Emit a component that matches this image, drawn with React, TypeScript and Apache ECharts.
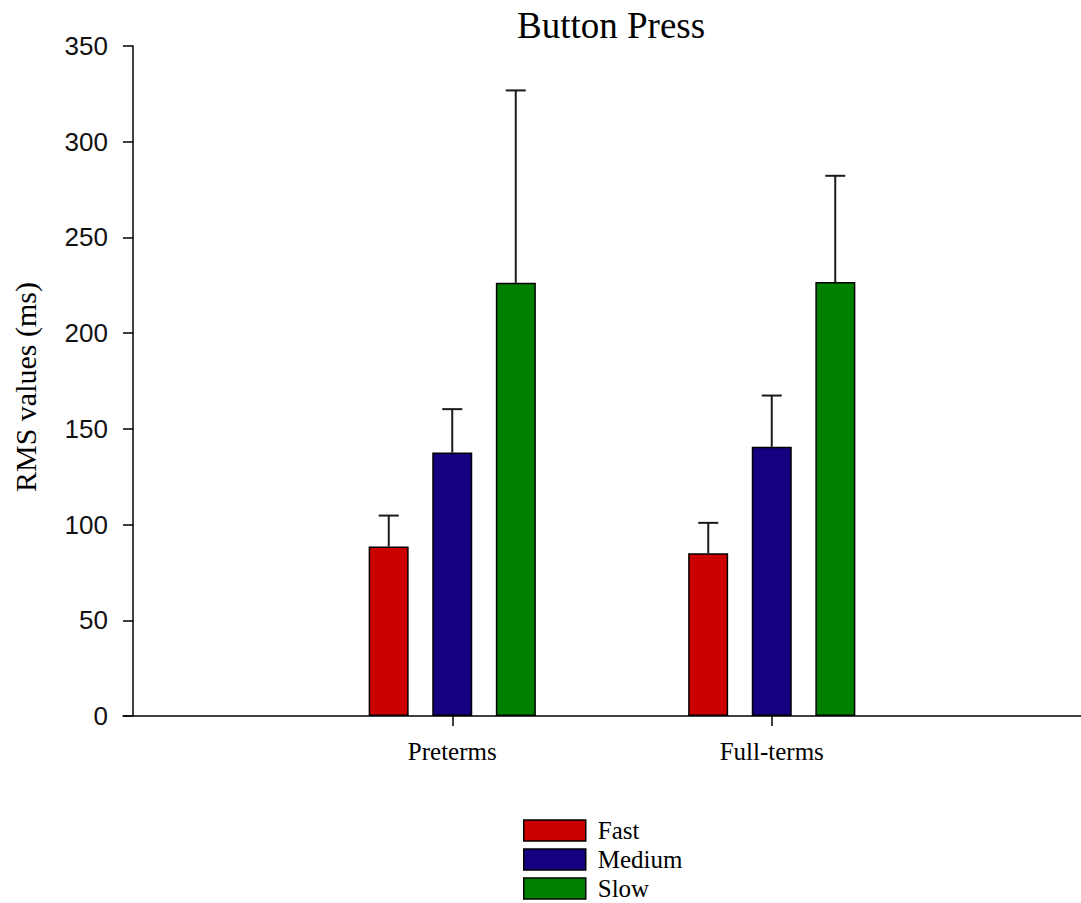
import React, { useEffect, useRef } from "react";
import * as echarts from "echarts";

const categories = ["Preterms", "Full-terms"];
const seriesNames = ["Fast", "Medium", "Slow"];
const fastMeans = [88.5, 85.0];
const mediumMeans = [137.6, 140.6];
const slowMeans = [226.3, 226.7];
const fastErr = [16.2, 15.9];
const mediumErr = [22.7, 26.8];
const slowErr = [100.5, 55.5];
const yTicks = { min: 0, max: 350, interval: 50 };
const colors = ["#cc0000", "#150080", "#008000"];

const BAR_W = 40;
const STEP = 63.5;

export default function App() {
  const ref = useRef<HTMLDivElement>(null);
  useEffect(() => {
    if (!ref.current) return;
    const chart = echarts.init(ref.current, null, { renderer: "svg" });
    const means = [fastMeans, mediumMeans, slowMeans];
    const errs = [fastErr, mediumErr, slowErr];
    const axisColor = "#000";
    const barSeries = seriesNames.map((name, k) => ({
      name,
      type: "bar",
      xAxisIndex: 2,
      yAxisIndex: 2,
      data: means[k],
      barWidth: BAR_W,
      barGap: "59%",
      itemStyle: { color: colors[k], borderColor: "#000", borderWidth: 1.5 },
      z: 3,
    }));
    const errSeries = seriesNames.map((name, k) => ({
      name: name + " err",
      type: "custom",
      xAxisIndex: 2,
      yAxisIndex: 2,
      z: 4,
      data: categories.map((_, i) => [i, means[k][i], errs[k][i]]),
      renderItem: (params: any, api: any) => {
        const i = api.value(0);
        const m = api.value(1);
        const e = api.value(2);
        const p0 = api.coord([i, m]);
        const p1 = api.coord([i, m + e]);
        const x = p0[0] + (k - 1) * STEP;
        const style = { stroke: "#1a1a1a", lineWidth: 2 };
        return {
          type: "group",
          children: [
            { type: "line", shape: { x1: x, y1: p0[1], x2: x, y2: p1[1] }, style },
            { type: "line", shape: { x1: x - 10, y1: p1[1], x2: x + 10, y2: p1[1] }, style },
          ],
        };
      },
    }));
    chart.setOption({
      animation: false,
      backgroundColor: "#fff",
      title: {
        text: "Button Press",
        left: 517,
        top: 7,
        padding: 0,
        textStyle: { fontFamily: "Liberation Serif", fontSize: 37, fontWeight: "normal", color: "#000" },
      },
      legend: {
        data: seriesNames,
        orient: "vertical",
        left: 523,
        top: 818,
        height: 120,
        padding: 0,
        itemWidth: 62,
        itemHeight: 21,
        itemGap: 4,
        icon: "rect",
        itemStyle: { borderColor: "#000", borderWidth: 1.5 },
        textStyle: { fontFamily: "Liberation Serif", fontSize: 25, color: "#000", padding: [0, 0, 0, 7] },
      },
      graphic: [
        {
          type: "text",
          x: 25,
          y: 387,
          rotation: Math.PI / 2,
          style: {
            text: "RMS values (ms)",
            fontFamily: "Liberation Serif",
            fontSize: 30,
            fill: "#000",
            align: "center",
            verticalAlign: "middle",
          },
        },
      ],
      grid: [
        { left: 123, right: 0, top: 46, bottom: 187 },
        { left: 133, right: 0, top: 46, bottom: 187 },
        { left: 292.5, right: 149.5, top: 46, bottom: 187 },
      ],
      xAxis: [
        {
          gridIndex: 0,
          type: "category",
          data: [""],
          axisLine: { show: true, lineStyle: { color: axisColor, width: 1.5 } },
          axisTick: { show: false },
          axisLabel: { show: false },
        },
        { gridIndex: 1, type: "category", data: [""], show: false },
        {
          gridIndex: 2,
          type: "category",
          data: categories,
          axisLine: { show: false },
          axisTick: { show: true, alignWithLabel: true, length: 10, lineStyle: { color: axisColor, width: 1.5 } },
          axisLabel: { fontFamily: "Liberation Serif", fontSize: 25, color: "#000", margin: 23 },
        },
      ],
      yAxis: [
        { gridIndex: 0, type: "value", min: yTicks.min, max: yTicks.max, show: false },
        {
          gridIndex: 1,
          type: "value",
          min: yTicks.min,
          max: yTicks.max,
          interval: yTicks.interval,
          axisLine: { show: true, lineStyle: { color: axisColor, width: 1.5 } },
          axisTick: { show: true, length: 10, lineStyle: { color: axisColor, width: 1.5 } },
          axisLabel: { fontFamily: "Liberation Sans", fontSize: 26, color: "#111", margin: 25 },
          splitLine: { show: false },
        },
        { gridIndex: 2, type: "value", min: yTicks.min, max: yTicks.max, show: false },
      ],
      series: [...barSeries, ...errSeries],
    });
    return () => chart.dispose();
  }, []);
  return <div ref={ref} style={{ position: "absolute", left: 0, top: 0, width: 1081, height: 903 }} />;
}
